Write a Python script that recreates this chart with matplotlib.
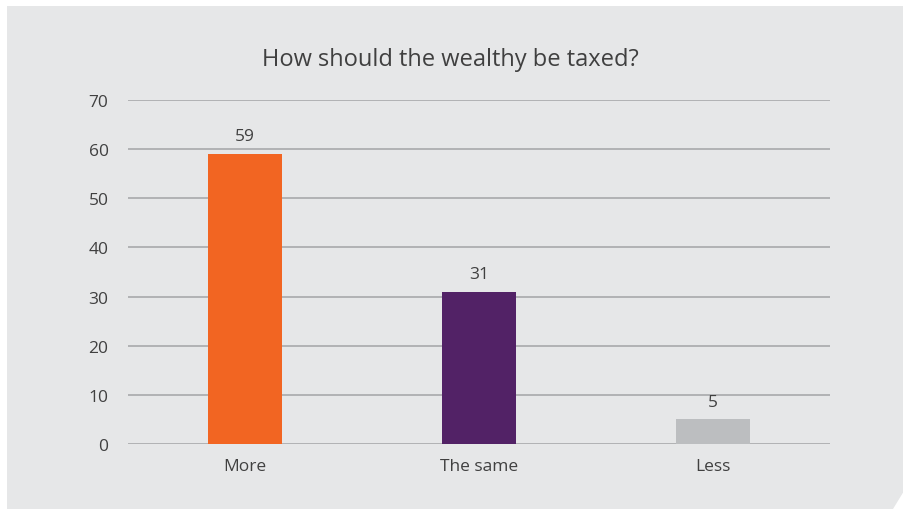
import matplotlib
matplotlib.use("Agg")
import matplotlib.pyplot as plt
from matplotlib.patches import Polygon

categories = ["More", "The same", "Less"]
values = [59, 31, 5]
colors = ["#f26522", "#522266", "#bcbec0"]
yticks = [0, 10, 20, 30, 40, 50, 60, 70]
title = "How should the wealthy be taxed?"

plt.rcParams['font.family'] = ['Open Sans', 'DejaVu Sans']

W, H = 904, 510
fig = plt.figure(figsize=(W/100, H/100), dpi=100)
fig.patch.set_facecolor("white")

# gray panel with cut corner (figure pixel coords -> fraction)
pts = [(7, 7), (904, 7), (904, 492), (893, 510), (7, 510)]
poly = Polygon([(x/W, 1 - y/H) for x, y in pts], closed=True,
               transform=fig.transFigure, facecolor="#e6e7e8", edgecolor="none", zorder=-10)
fig.patches.append(poly)

ax = fig.add_axes([128/W, 1-445/H, (830-128)/W, (445-101)/H])
ax.set_zorder(1)
ax.set_facecolor("none")
x = list(range(len(categories)))
bars = ax.bar(x, values, width=0.315, color=colors, zorder=3)
ax.set_xlim(-0.5, len(categories)-0.5)
ax.set_ylim(0, 70)
ax.set_yticks(yticks)
ax.set_xticks(x)
ax.set_xticklabels(categories)
ax.yaxis.grid(True, color="#a8a9ab", linewidth=1.2, zorder=0)
ax.set_axisbelow(True)
for s in ax.spines.values():
    s.set_visible(False)
ax.tick_params(axis='y', length=0, pad=14, labelsize=12.5, labelcolor="#404040")
ax.tick_params(axis='x', length=0, pad=10, labelsize=12.5, labelcolor="#404040")
for xi, v in zip(x, values):
    ax.annotate(str(v), (xi, v), xytext=(0, 7), textcoords="offset points",
                ha="center", va="bottom", fontsize=12.5, color="#404040")
fig.text(450/W, 1-60/H, title, ha="center", va="center", fontsize=17, color="#404040")

fig.savefig("out.png", dpi=100, facecolor=fig.get_facecolor())
